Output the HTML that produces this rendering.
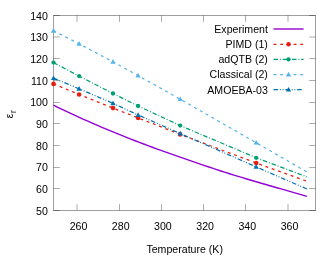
<!DOCTYPE html><html><head><meta charset="utf-8"><style>html,body{margin:0;padding:0;background:#fff}</style></head><body><svg width="333" height="259" viewBox="0 0 333 259" style="display:block;will-change:transform">
<rect width="333" height="259" fill="#fff"/>
<g font-family="Liberation Sans, sans-serif" font-size="10.6px" fill="#000">
<text x="47.9" y="214.67" text-anchor="end">50</text>
<text x="47.9" y="192.99" text-anchor="end">60</text>
<text x="47.9" y="171.31" text-anchor="end">70</text>
<text x="47.9" y="149.63" text-anchor="end">80</text>
<text x="47.9" y="127.95" text-anchor="end">90</text>
<text x="47.9" y="106.27" text-anchor="end">100</text>
<text x="47.9" y="84.59" text-anchor="end">110</text>
<text x="47.9" y="62.91" text-anchor="end">120</text>
<text x="47.9" y="41.23" text-anchor="end">130</text>
<text x="47.9" y="19.55" text-anchor="end">140</text>
<text x="78.50" y="229.65" text-anchor="middle">260</text>
<text x="120.70" y="229.65" text-anchor="middle">280</text>
<text x="162.90" y="229.65" text-anchor="middle">300</text>
<text x="205.10" y="229.65" text-anchor="middle">320</text>
<text x="247.30" y="229.65" text-anchor="middle">340</text>
<text x="289.50" y="229.65" text-anchor="middle">360</text>
<text x="184.7" y="252.6" text-anchor="middle">Temperature (K)</text>
<text transform="translate(13 118.2) rotate(-90)">ε<tspan font-size="8.6px" dx="0.4" dy="3.0">r</tspan></text>
<text x="267.9" y="32.95" text-anchor="end">Experiment</text>
<text x="267.9" y="48.15" text-anchor="end">PIMD (1)</text>
<text x="267.9" y="63.30" text-anchor="end">adQTB (2)</text>
<text x="267.9" y="78.45" text-anchor="end">Classical (2)</text>
<text x="267.9" y="93.55" text-anchor="end">AMOEBA-03</text>
</g>
<g stroke="#000" stroke-opacity="0.33" stroke-width="1" fill="none">
<path d="M53.5 210.50 h6.3 M315.5 210.50 h-6.3"/>
<path d="M53.5 188.50 h6.3 M315.5 188.50 h-6.3"/>
<path d="M53.5 167.50 h6.3 M315.5 167.50 h-6.3"/>
<path d="M53.5 145.50 h6.3 M315.5 145.50 h-6.3"/>
<path d="M53.5 123.50 h6.3 M315.5 123.50 h-6.3"/>
<path d="M53.5 102.50 h6.3 M315.5 102.50 h-6.3"/>
<path d="M53.5 80.50 h6.3 M315.5 80.50 h-6.3"/>
<path d="M53.5 58.50 h6.3 M315.5 58.50 h-6.3"/>
<path d="M53.5 37.00 h6.3 M315.5 37.00 h-6.3"/>
<path d="M53.5 15.50 h6.3 M315.5 15.50 h-6.3"/>
<path d="M77.00 210.5 v-6.3 M77.00 15.5 v6.3"/>
<path d="M119.50 210.5 v-6.3 M119.50 15.5 v6.3"/>
<path d="M161.50 210.5 v-6.3 M161.50 15.5 v6.3"/>
<path d="M203.50 210.5 v-6.3 M203.50 15.5 v6.3"/>
<path d="M245.50 210.5 v-6.3 M245.50 15.5 v6.3"/>
<path d="M288.00 210.5 v-6.3 M288.00 15.5 v6.3"/>
</g>
<rect x="53.5" y="15.5" width="262.00" height="195.00" fill="none" stroke="#000" stroke-opacity="0.38" stroke-width="1"/>
<polyline fill="none" stroke="#9400D3" stroke-width="1.4" points="53.50,105.21 57.79,107.30 62.09,109.37 66.38,111.41 70.68,113.43 74.97,115.42 79.27,117.38 83.56,119.32 87.86,121.23 92.15,123.12 96.45,124.98 100.74,126.82 105.04,128.64 109.33,130.43 113.63,132.20 117.92,133.95 122.22,135.68 126.51,137.39 130.81,139.07 135.10,140.74 139.40,142.39 143.69,144.02 147.99,145.63 152.28,147.22 156.58,148.80 160.87,150.36 165.17,151.90 169.46,153.44 173.76,154.95 178.05,156.46 182.35,157.96 186.64,159.44 190.94,160.92 195.23,162.39 199.53,163.84 203.82,165.29 208.12,166.73 212.41,168.16 216.71,169.57 221.00,170.97 225.30,172.35 229.59,173.72 233.89,175.07 238.18,176.39 242.48,177.70 246.77,178.99 251.07,180.27 255.36,181.53 259.66,182.78 263.95,184.02 268.25,185.25 272.54,186.49 276.84,187.71 281.13,188.94 285.43,190.17 289.72,191.40 294.02,192.63 298.31,193.86 302.61,195.10 306.90,196.33"/>
<polyline fill="none" stroke="#E51E10" stroke-width="1.25" stroke-dasharray="2.9 3.79" points="53.50,83.90 79.10,94.45 113.00,108.10 138.10,117.90 180.20,134.40 256.20,163.00 306.90,181.30"/>
<circle cx="53.50" cy="83.90" r="2.3" fill="#E51E10"/>
<circle cx="79.10" cy="94.45" r="2.3" fill="#E51E10"/>
<circle cx="113.00" cy="108.10" r="2.3" fill="#E51E10"/>
<circle cx="138.10" cy="117.90" r="2.3" fill="#E51E10"/>
<circle cx="180.20" cy="134.40" r="2.3" fill="#E51E10"/>
<circle cx="256.20" cy="163.00" r="2.3" fill="#E51E10"/>
<polyline fill="none" stroke="#009E73" stroke-width="1.25" stroke-dasharray="4.5 1.925 0.9 1.925" points="53.50,62.60 79.10,76.10 113.00,93.50 138.10,106.00 180.20,125.55 256.20,157.80 306.90,176.90"/>
<circle cx="53.50" cy="62.60" r="2.15" fill="#009E73"/>
<circle cx="79.10" cy="76.10" r="2.15" fill="#009E73"/>
<circle cx="113.00" cy="93.50" r="2.15" fill="#009E73"/>
<circle cx="138.10" cy="106.00" r="2.15" fill="#009E73"/>
<circle cx="180.20" cy="125.55" r="2.15" fill="#009E73"/>
<circle cx="256.20" cy="157.80" r="2.15" fill="#009E73"/>
<polyline fill="none" stroke="#56B4E9" stroke-width="1.25" stroke-dasharray="2.9 3.77" points="53.50,30.80 79.10,43.80 113.00,61.80 138.10,75.60 180.20,99.20 256.20,142.70 306.90,172.00"/>
<path d="M53.50 28.10 L56.10 32.70 L50.90 32.70 Z" fill="#56B4E9"/>
<path d="M79.10 41.10 L81.70 45.70 L76.50 45.70 Z" fill="#56B4E9"/>
<path d="M113.00 59.10 L115.60 63.70 L110.40 63.70 Z" fill="#56B4E9"/>
<path d="M138.10 72.90 L140.70 77.50 L135.50 77.50 Z" fill="#56B4E9"/>
<path d="M180.20 96.50 L182.80 101.10 L177.60 101.10 Z" fill="#56B4E9"/>
<path d="M256.20 140.00 L258.80 144.60 L253.60 144.60 Z" fill="#56B4E9"/>
<polyline fill="none" stroke="#0072B2" stroke-width="1.25" stroke-dasharray="4.6 1.81 0.9 1.81 0.9 1.81" points="53.50,78.10 79.10,88.80 113.00,103.30 138.10,115.00 180.20,133.50 256.20,166.90 306.90,189.00"/>
<path d="M53.50 75.40 L56.10 80.00 L50.90 80.00 Z" fill="#0072B2"/>
<path d="M79.10 86.10 L81.70 90.70 L76.50 90.70 Z" fill="#0072B2"/>
<path d="M113.00 100.60 L115.60 105.20 L110.40 105.20 Z" fill="#0072B2"/>
<path d="M138.10 112.30 L140.70 116.90 L135.50 116.90 Z" fill="#0072B2"/>
<path d="M180.20 130.80 L182.80 135.40 L177.60 135.40 Z" fill="#0072B2"/>
<path d="M256.20 164.20 L258.80 168.80 L253.60 168.80 Z" fill="#0072B2"/>
<path d="M273.5 29.0 H303.6" stroke="#9400D3" stroke-width="1.4"/>
<path d="M273.5 44.3 H303.6" stroke="#E51E10" stroke-width="1.25" stroke-dasharray="2.9 3.79"/>
<circle cx="288.55" cy="44.30" r="2.3" fill="#E51E10"/>
<path d="M273.5 59.45 H303.6" stroke="#009E73" stroke-width="1.25" stroke-dasharray="4.5 1.925 0.9 1.925"/>
<circle cx="288.55" cy="59.45" r="2.15" fill="#009E73"/>
<path d="M273.5 74.5 H303.6" stroke="#56B4E9" stroke-width="1.25" stroke-dasharray="2.9 3.77"/>
<path d="M288.55 71.80 L291.15 76.40 L285.95 76.40 Z" fill="#56B4E9"/>
<path d="M273.5 89.6 H303.6" stroke="#0072B2" stroke-width="1.25" stroke-dasharray="4.6 1.81 0.9 1.81 0.9 1.81"/>
<path d="M288.55 86.90 L291.15 91.50 L285.95 91.50 Z" fill="#0072B2"/>
</svg></body></html>
